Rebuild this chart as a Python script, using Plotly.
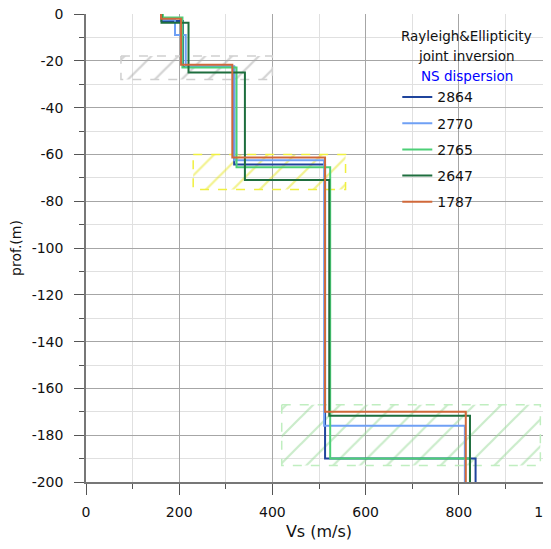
import plotly.graph_objects as go

# ---- data ----
names = ["2864", "2770", "2765", "2647", "1787"]
colors = ["#1f449c", "#6fa0f5", "#4ccf77", "#1e6e3e", "#d0683a"]

# layer velocities (m/s) and layer bottom depths (m) for each profile
vs_2864 = [162, 208, 318, 513, 836]
bot_2864 = [-3.0, -22.6, -64.3, -190.0, -200.0]
vs_2770 = [163, 191, 214, 318, 511, 813]
bot_2770 = [-2.5, -9.0, -22.3, -62.5, -176.0, -200.0]
vs_2765 = [165, 207, 323, 524, 824]
bot_2765 = [-1.5, -22.9, -65.5, -190.0, -200.0]
vs_2647 = [162, 220, 341, 522, 824]
bot_2647 = [-3.7, -25.0, -70.9, -171.7, -200.0]
vs_1787 = [161, 204, 314, 513, 815]
bot_1787 = [-2.0, -21.7, -61.3, -170.0, -200.0]

profiles = [(vs_2864, bot_2864), (vs_2770, bot_2770), (vs_2765, bot_2765),
            (vs_2647, bot_2647), (vs_1787, bot_1787)]

# hatched uncertainty boxes: (vmin, vmax, dtop, dbottom)
box_v = [[75, 400], [230, 557], [420, 975]]
box_d = [[-18, -28], [-60, -75], [-167, -193]]
box_hatch = ["#a8a8a8", "#e6e620", "#98da98"]
box_edge = ["#cfcfcf", "#f0f040", "#c0eec0"]

x_ticks = [0, 200, 400, 600, 800, 1000]
y_ticks = [0, -20, -40, -60, -80, -100, -120, -140, -160, -180, -200]

legend_title = ["Rayleigh&Ellipticity", "joint inversion", "NS dispersion"]
legend_title_colors = ["#111111", "#111111", "#0000ff"]

FONT = "DejaVu Sans"

fig = go.Figure()

for (v, d), hc, ec in zip(zip(box_v, box_d), box_hatch, box_edge):
    fig.add_trace(go.Scatter(
        x=[v[0], v[1], v[1], v[0], v[0]],
        y=[d[0], d[0], d[1], d[1], d[0]],
        mode="lines", fill="toself",
        fillcolor="rgba(0,0,0,0)",
        fillpattern=dict(shape="/", fgcolor=hc, bgcolor="rgba(0,0,0,0)",
                         size=19, solidity=0.12),
        line=dict(color=ec, width=1.5, dash="dash"),
        showlegend=False, hoverinfo="skip"))

for name, col, (vs, bots) in zip(names, colors, profiles):
    xs, ys = [], []
    top = 0.0
    for v, b in zip(vs, bots):
        xs += [v, v]
        ys += [top, b]
        top = b
    fig.add_trace(go.Scatter(x=xs, y=ys, mode="lines", name=name,
                             legendgroup=name,
                             line=dict(color=col, width=2)))

annotations = []
for i, (txt, c) in enumerate(zip(legend_title, legend_title_colors)):
    annotations.append(dict(
        text=txt, x=0.817, y=0.953 - i * 0.0427, xref="paper", yref="paper",
        xanchor="center", yanchor="middle", showarrow=False,
        font=dict(family=FONT, size=13.5, color=c)))

fig.update_layout(
    width=544, height=533,
    margin=dict(l=78, r=0, t=6, b=59),
    paper_bgcolor="white", plot_bgcolor="white",
    font=dict(family=FONT, size=14, color="#111"),
    legend=dict(
        x=0.668, y=0.856, xanchor="left", yanchor="top",
        bgcolor="rgba(0,0,0,0)",
        font=dict(family=FONT, size=14, color="#111"),
        tracegroupgap=5, itemwidth=30,
    ),
    annotations=annotations,
)

fig.update_xaxes(
    range=[0, 1000], tickvals=x_ticks, ticktext=[str(t) for t in x_ticks],
    showgrid=True, gridcolor="#a6a6a6", gridwidth=1,
    minor=dict(dtick=100, showgrid=True, gridcolor="#e0e0e0", ticks="outside",
               ticklen=5, tickcolor="#555"),
    ticks="outside", ticklen=11, tickcolor="#555", tickwidth=1,
    showline=True, linecolor="#777", linewidth=1.5, zeroline=False,
    automargin=False, ticklabeloverflow="allow", ticklabelstandoff=5,
    title=dict(text="Vs (m/s)", standoff=17, font=dict(size=16)),
    tickfont=dict(size=14),
)
fig.update_yaxes(
    range=[-200, 0], tickvals=y_ticks, ticktext=[str(t) for t in y_ticks],
    showgrid=True, gridcolor="#a6a6a6", gridwidth=1,
    minor=dict(dtick=10, showgrid=True, gridcolor="#e0e0e0", ticks="outside",
               ticklen=5, tickcolor="#555"),
    ticks="outside", ticklen=10, tickcolor="#555", tickwidth=1,
    showline=True, linecolor="#777", linewidth=1.5, zeroline=False,
    automargin=False, ticklabeloverflow="allow", ticklabelstandoff=8,
    title=dict(text="prof.(m)", standoff=14, font=dict(size=14)),
    tickfont=dict(size=14),
)

fig.write_html("out.html")
